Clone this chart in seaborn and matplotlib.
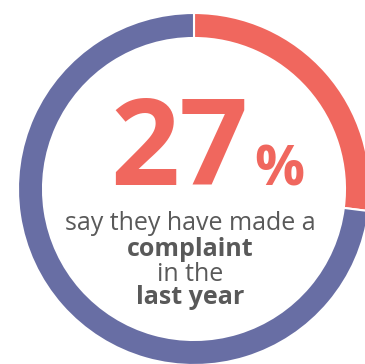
import matplotlib
matplotlib.use("Agg")
import matplotlib.pyplot as plt
import seaborn as sns

# Share of respondents
labels = ["Made a complaint", "Did not"]
shares = [27, 73]
headline = "27"
lines = ["say they have made a", "complaint", "in the", "last year"]
bold_lines = [False, True, False, True]

sns.set_theme(style="white")
plt.rcParams["font.family"] = ["Open Sans", "DejaVu Sans"]

ring_colors = ["#F0675E", "#686EA4"]
text_gray = "#595959"

W, H = 365, 364
fig = plt.figure(figsize=(W / 100, H / 100), dpi=100)
ax = fig.add_axes([0, 0, 1, 1])

cx, cy, r_out, ring_w = 194, H - 189, 176, 25
ax.pie(shares, labels=None, colors=ring_colors, startangle=90,
       counterclock=False, center=(cx, cy), radius=r_out,
       wedgeprops=dict(width=ring_w, edgecolor="white", linewidth=1.5))
ax.set_xlim(0, W)
ax.set_ylim(0, H)
ax.set_aspect("equal")
ax.axis("off")

# Big number
ax.text(179, H - 185, headline, ha="center", va="baseline",
        fontsize=87, fontweight="bold", color=ring_colors[0])
ax.text(279, H - 185, "%", ha="center", va="baseline",
        fontsize=40, fontweight="bold", color=ring_colors[0])

baselines = [230, 256, 281, 304]
sizes = [18, 18, 18, 18]
for txt, b, y, s in zip(lines, bold_lines, baselines, sizes):
    ax.text(190, H - y, txt, ha="center", va="baseline",
            fontsize=s, fontweight="bold" if b else "normal",
            color=text_gray)

fig.savefig("out.png", dpi=100)
